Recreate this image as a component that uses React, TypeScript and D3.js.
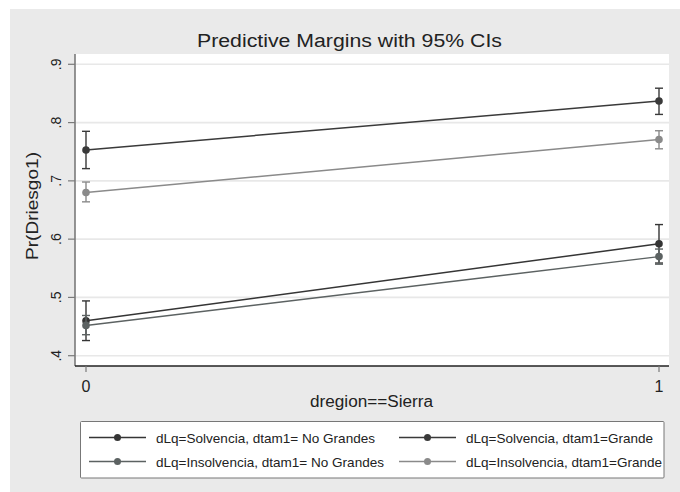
import React from 'react'
import * as d3 from 'd3'

// x categories (dregion==Sierra)
const xValues = [0, 1]
const yTicks = [0.4, 0.5, 0.6, 0.7, 0.8, 0.9]
const yTickLabels = ['.4', '.5', '.6', '.7', '.8', '.9']

const seriesNames = [
  'dLq=Solvencia, dtam1= No Grandes',
  'dLq=Solvencia, dtam1=Grande',
  'dLq=Insolvencia, dtam1= No Grandes',
  'dLq=Insolvencia, dtam1=Grande',
]
const seriesColors = ['#353535', '#3a3a3a', '#5c6262', '#8a8a8a']

// margins, lower and upper CI per series
const margins = [
  [0.46, 0.592],
  [0.753, 0.837],
  [0.452, 0.57],
  [0.68, 0.771],
]
const lower = [
  [0.426, 0.559],
  [0.721, 0.814],
  [0.436, 0.557],
  [0.664, 0.755],
]
const upper = [
  [0.494, 0.625],
  [0.785, 0.859],
  [0.469, 0.583],
  [0.698, 0.786],
]

const W = 680
const H = 492
const plotLeft = 75
const plotRight = 669
const plotTop = 54
const plotBottom = 366
const font = 'Liberation Sans, Arial, sans-serif'

export default function App() {
  const x = d3.scaleLinear().domain([0, 1]).range([86, 659])
  const y = d3.scaleLinear().domain([0.4, 0.9]).range([355.7, 64.3])
  const line = d3
    .line<number>()
    .x((_, i) => x(xValues[i]))
    .y((d) => y(d))

  // legend slots: series index, line start, row centre, text length
  const legendItems = [
    { s: 0, lx: 89, cy: 437.5, len: 219 },
    { s: 1, lx: 399, cy: 437.5, len: 187 },
    { s: 2, lx: 89, cy: 461.5, len: 228 },
    { s: 3, lx: 399, cy: 461.5, len: 196 },
  ]

  return (
    <svg
      width={W}
      height={H}
      style={{ position: 'absolute', left: 0, top: 0, display: 'block' }}
      fontFamily={font}
    >
      <rect x={0} y={0} width={W} height={H} fill="#ffffff" />
      <rect x={10} y={9} width={W - 10} height={H - 9} fill="#eaeaea" />
      <rect
        x={plotLeft}
        y={plotTop}
        width={plotRight - plotLeft}
        height={plotBottom - plotTop}
        fill="#ffffff"
      />

      {/* grid */}
      {yTicks.map((t) => (
        <line
          key={'g' + t}
          x1={plotLeft}
          x2={plotRight}
          y1={y(t)}
          y2={y(t)}
          stroke="#e8e8e8"
          strokeWidth={1.6}
        />
      ))}

      {/* title */}
      <text
        x={349.5}
        y={47}
        textAnchor="middle"
        fontSize={18}
        fill="#222"
        textLength={305}
        lengthAdjust="spacingAndGlyphs"
      >
        Predictive Margins with 95% CIs
      </text>

      {/* y axis */}
      <line x1={plotLeft} x2={plotLeft} y1={plotTop} y2={plotBottom} stroke="#7a7a7a" strokeWidth={1.6} />
      {yTicks.map((t, i) => (
        <g key={'yt' + t}>
          <line x1={plotLeft - 7} x2={plotLeft} y1={y(t)} y2={y(t)} stroke="#7a7a7a" strokeWidth={1.2} />
          <text
            transform={`translate(60.5,${y(t)}) rotate(-90)`}
            textAnchor="middle"
            fontSize={14}
            fill="#222"
          >
            {yTickLabels[i]}
          </text>
        </g>
      ))}
      <text
        transform={`translate(38,206) rotate(-90)`}
        textAnchor="middle"
        fontSize={17}
        fill="#222"
        textLength={108}
        lengthAdjust="spacingAndGlyphs"
      >
        Pr(Driesgo1)
      </text>

      {/* x axis */}
      <line x1={plotLeft} x2={plotRight} y1={plotBottom} y2={plotBottom} stroke="#222" strokeWidth={1.4} />
      {xValues.map((v) => (
        <g key={'xt' + v}>
          <line x1={x(v)} x2={x(v)} y1={plotBottom} y2={plotBottom + 6} stroke="#7a7a7a" strokeWidth={1.2} />
          <text x={x(v)} y={392} textAnchor="middle" fontSize={16} fill="#222">
            {v}
          </text>
        </g>
      ))}
      <text
        x={371.5}
        y={407}
        textAnchor="middle"
        fontSize={16}
        fill="#222"
        textLength={123}
        lengthAdjust="spacingAndGlyphs"
      >
        dregion==Sierra
      </text>

      {/* series */}
      {margins.map((m, s) => (
        <path key={'l' + s} d={line(m) || ''} fill="none" stroke={seriesColors[s]} strokeWidth={1.5} />
      ))}
      {margins.map((m, s) =>
        m.map((v, i) => {
          const cx = x(xValues[i])
          return (
            <g key={'p' + s + '-' + i} stroke={seriesColors[s]} strokeWidth={1.4}>
              <line x1={cx} x2={cx} y1={y(lower[s][i])} y2={y(upper[s][i])} />
              <line x1={cx - 4} x2={cx + 4} y1={y(lower[s][i])} y2={y(lower[s][i])} />
              <line x1={cx - 4} x2={cx + 4} y1={y(upper[s][i])} y2={y(upper[s][i])} />
              <circle cx={cx} cy={y(v)} r={3.8} fill={seriesColors[s]} stroke="none" />
            </g>
          )
        })
      )}

      {/* legend */}
      <rect x={80.5} y={421.5} width={583.5} height={56.5} fill="#ffffff" stroke="#777" strokeWidth={1} rx={1} />
      {legendItems.map(({ s, lx, cy, len }) => (
        <g key={'lg' + s}>
          <line x1={lx} x2={lx + 57} y1={cy} y2={cy} stroke={seriesColors[s]} strokeWidth={1.5} />
          <circle cx={lx + 28.5} cy={cy} r={3.5} fill={seriesColors[s]} />
          <text
            x={lx + 67}
            y={cy + 5}
            fontSize={13.5}
            fill="#222"
            textLength={len}
            lengthAdjust="spacingAndGlyphs"
          >
            {seriesNames[s]}
          </text>
        </g>
      ))}
    </svg>
  )
}
